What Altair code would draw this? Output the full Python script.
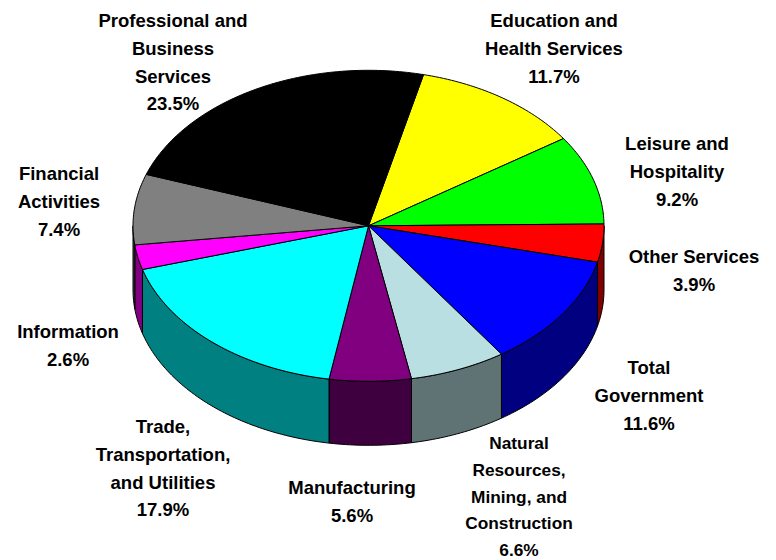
import math
import altair as alt
import pandas as pd

# --- values (clockwise from the first slice) ---
names = ["Education and\nHealth Services", "Leisure and\nHospitality", "Other Services",
         "Total\nGovernment", "Natural\nResources,\nMining, and\nConstruction", "Manufacturing",
         "Trade,\nTransportation,\nand Utilities", "Information", "Financial\nActivities",
         "Professional and\nBusiness\nServices"]
shares = [11.7, 9.2, 3.9, 11.6, 6.6, 5.6, 17.9, 2.6, 7.4, 23.5]
top_colors = ["#ffff00", "#00ff00", "#ff0000", "#0000ff", "#b9dfe3", "#800080",
              "#00ffff", "#ff00ff", "#808080", "#000000"]
wall_colors = ["#808000", "#008000", "#800000", "#000080", "#5f7374", "#3f003f",
               "#008080", "#800080", "#404040", "#000000"]

# --- layout (page pixels) ---
label_x = [554, 677, 694, 649, 519, 352, 163, 68, 59, 173]
label_y = [27, 150, 263, 374, 449, 494, 433, 338, 180, 27]
small_label = [False, False, False, False, True, False, False, False, False, False]
CX, CY, RX, RY, DEPTH = 368.5, 225.8, 235.5, 155.5, 64
START = 13.5


def warp(angle):
    # slight perspective of the original 3-D pie
    return angle + 0.6 - 0.6 * math.cos(math.radians(angle))


def rim(angle, drop=0.0):
    t = math.radians(angle)
    return CX + RX * math.sin(t), CY - RY * math.cos(t) + drop


tops, walls = [], []
angle = START
for k, share in enumerate(shares):
    sweep = share * 3.6
    a, b = warp(angle), warp(angle + sweep)
    steps = max(2, int(sweep))
    arc = [a + (b - a) * i / steps for i in range(steps + 1)]
    pts = [(CX, CY)] + [rim(v) for v in arc] + [(CX, CY)]
    for i, (x, y) in enumerate(pts):
        tops.append({"slice": k, "i": i, "x": x, "y": y})
    lo, hi = max(a, 90), min(b, 270)
    if hi > lo:
        n = max(2, int(hi - lo))
        vis = [lo + (hi - lo) * i / n for i in range(n + 1)]
        wp = [rim(v) for v in vis] + [rim(v, DEPTH) for v in reversed(vis)]
        wp.append(wp[0])
        for i, (x, y) in enumerate(wp):
            walls.append({"slice": k, "i": i, "x": x, "y": y})
    angle += sweep

labels = pd.DataFrame({"x": label_x, "y": label_y, "small": small_label,
                       "text": [f"{n}\n{s}%" for n, s in zip(names, shares)]})

W, H = 760, 552
xs = alt.Scale(domain=[8, 8 + W], range=[0, W])
ys = alt.Scale(domain=[8, 8 + H], range=[0, H])
X = alt.X("x:Q", scale=xs, axis=None)
Y = alt.Y("y:Q", scale=ys, axis=None)


def poly(rows, colors):
    return alt.Chart(pd.DataFrame(rows)).mark_line(stroke="black", strokeWidth=1, strokeJoin="round").encode(
        x=X, y=Y, order="i:Q", detail="slice:N",
        fill=alt.Fill("slice:N", scale=alt.Scale(domain=list(range(len(colors))), range=colors), legend=None))


def text(rows, size, leading):
    return alt.Chart(rows).mark_text(font="Liberation Sans", fontWeight="bold", fontSize=size, color="black",
                                     lineBreak="\n", lineHeight=leading, align="center",
                                     baseline="alphabetic").encode(x=X, y=Y, text="text:N")


chart = alt.layer(
    poly(walls, wall_colors), poly(tops, top_colors),
    text(labels[~labels.small], 18.5, 27.8), text(labels[labels.small], 17.3, 26.8),
).resolve_scale(fill="independent").properties(
    width=W, height=H, padding=0, background="white", autosize=alt.AutoSizeParams(type="none")
).configure_view(stroke=None)

chart.save("out.html", embed_options={"renderer": "svg", "actions": False})
